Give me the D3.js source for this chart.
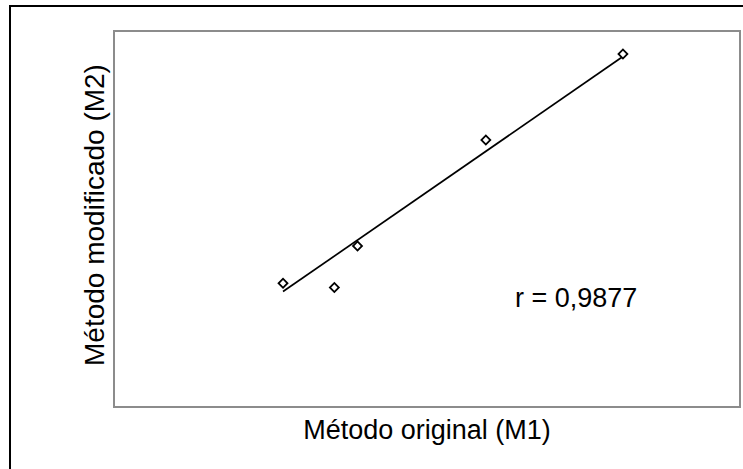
<!DOCTYPE html>
<html>
<head>
<meta charset="utf-8">
<script src="https://cdn.jsdelivr.net/npm/d3@7"></script>
<style>
    body { margin: 0; background: white; }
    text { font-family: "Liberation Sans", Arial, sans-serif; fill: black; }
</style>
</head>
<body>
<div class="container"></div>
<script>

// Data (arbitrary units, no ticks shown)
const m1 = [2.70, 3.52, 3.89, 5.94, 8.13]
const m2 = [3.29, 3.18, 4.28, 7.10, 9.39]
const trendX = [2.70, 8.13]
const trendY = [3.07, 9.32]
const xDomain = [0, 10]
const yDomain = [0, 10]
const xTitle = "Método original (M1)"
const yTitle = "Método modificado (M2)"
const rLabel = "r = 0,9877"

let outerWidth = 743
let outerHeight = 469
let margin = {top: 31, bottom: 62, left: 114, right: 3}
let width = outerWidth - margin.left - margin.right
let height = outerHeight - margin.top - margin.bottom

const svg = d3.select(".container")
    .append("svg")
    .attr("width", outerWidth)
    .attr("height", outerHeight)

// Chart area border (only top and left fall inside the picture)
svg.append("path")
    .attr("d", `M10,${outerHeight} V6 H${outerWidth}`)
    .attr("fill", "none")
    .attr("stroke", "black")
    .attr("stroke-width", 2)

const g = svg.append("g")
    .attr("transform", `translate(${margin.left}, ${margin.top})`)

const x = d3.scaleLinear().domain(xDomain).range([0, width])
const y = d3.scaleLinear().domain(yDomain).range([height, 0])

// Plot area frame
g.append("rect")
    .attr("width", width)
    .attr("height", height)
    .attr("fill", "white")
    .attr("stroke", "#8c8c8c")
    .attr("stroke-width", 2)

// Trend line
g.append("path")
    .datum(d3.zip(trendX, trendY))
    .attr("d", d3.line().x(d => x(d[0])).y(d => y(d[1])))
    .attr("fill", "none")
    .attr("stroke", "black")
    .attr("stroke-width", 1.7)

// Diamond markers
const points = d3.zip(m1, m2)
g.selectAll(".pt")
    .data(points)
    .join("path")
    .attr("class", "pt")
    .attr("d", d3.symbol().type(d3.symbolSquare).size(40))
    .attr("transform", d => `translate(${x(d[0])}, ${y(d[1])}) rotate(45)`)
    .attr("fill", "white")
    .attr("stroke", "black")
    .attr("stroke-width", 1.8)

g.append("text")
    .attr("x", 401)
    .attr("y", 276)
    .attr("font-size", 27)
    .text(rLabel)

// Axis titles
svg.append("text")
    .attr("x", margin.left + width / 2)
    .attr("y", 439)
    .attr("text-anchor", "middle")
    .attr("font-size", 27)
    .text(xTitle)

svg.append("text")
    .attr("transform", `translate(104, ${margin.top + height / 2 - 4}) rotate(-90)`)
    .attr("text-anchor", "middle")
    .attr("font-size", 28)
    .text(yTitle)

</script>
</body>
</html>
